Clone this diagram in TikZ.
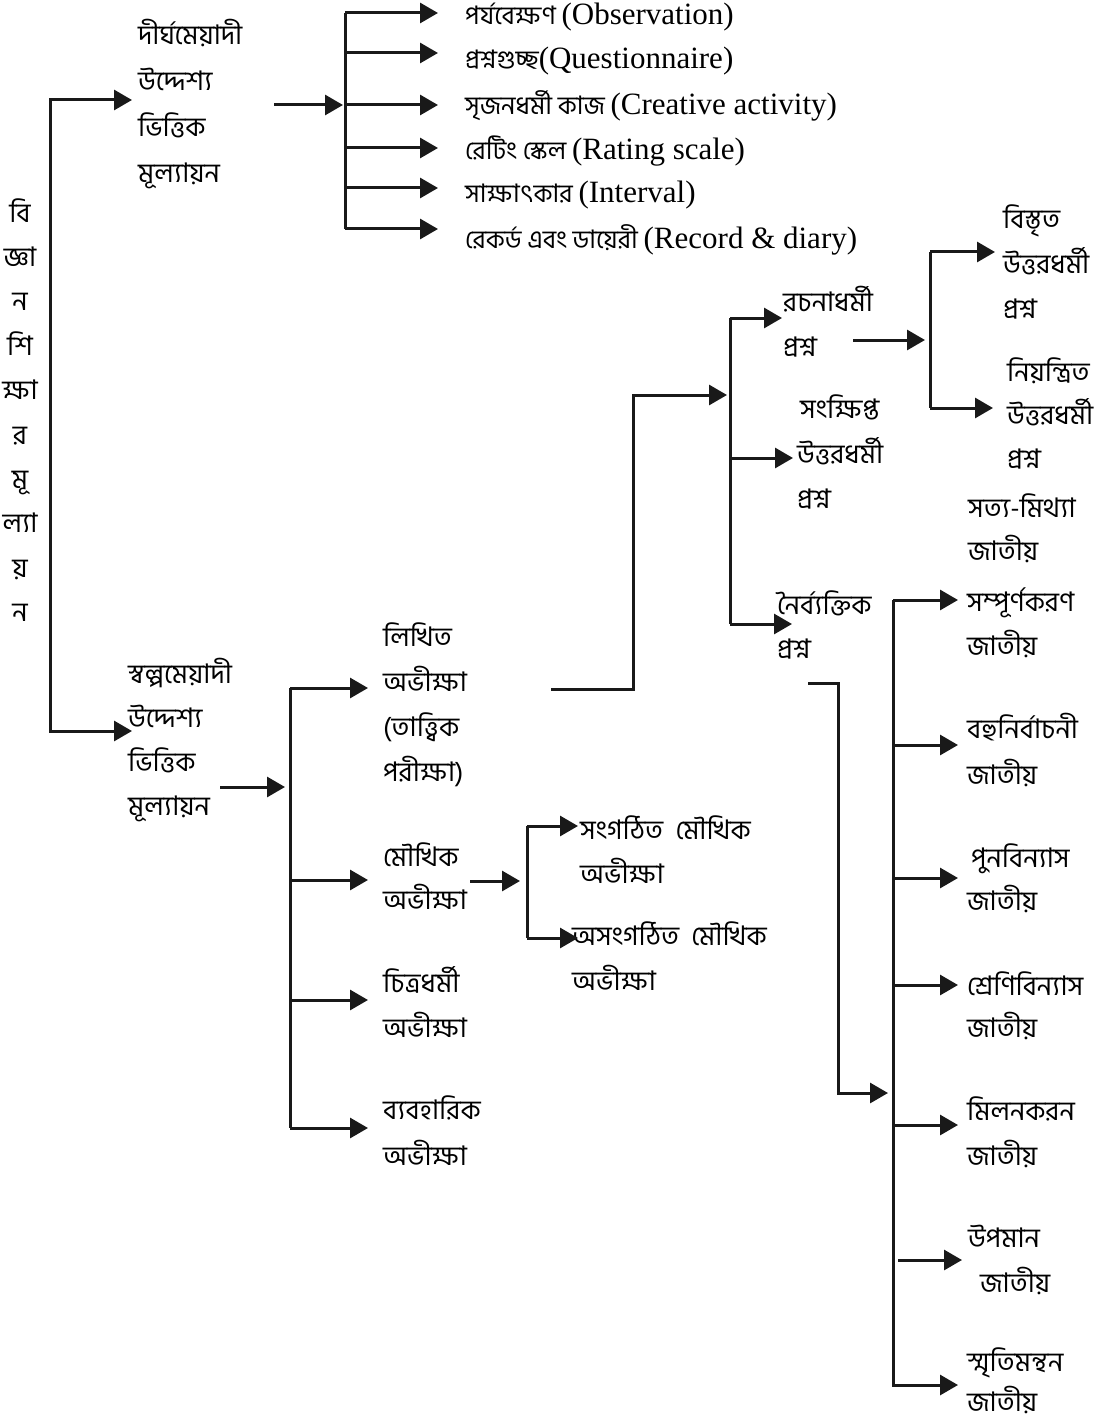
\documentclass[tikz,border=0pt]{standalone}
\usepackage{fontspec}
\newfontfamily\bn[Script=Bengali]{Hind Siliguri}
\newfontfamily\en{Liberation Serif}
\usetikzlibrary{arrows.meta}
\def\bsz{27}
\tikzset{
  ln/.style={line width=3pt, line join=miter, draw=black!90},
  arr/.style={ln, -{Triangle[length=18pt,width=20pt]}},
  txt/.style={anchor=west, inner sep=0pt, align=left, font=\bn\fontsize{\bsz}{45}\selectfont},
  lst/.style={anchor=west, inner sep=0pt, font=\bn\fontsize{25.5}{30}\selectfont}
}
\newcommand{\eng}[1]{{\en\fontsize{31}{36}\selectfont #1}}
\newcommand{\bls}[1]{\bn\fontsize{\bsz}{#1}\selectfont}
\begin{document}
\begin{tikzpicture}[x=1pt,y=-1pt]
\fill[white] (0,0) rectangle (1119,1423);
\useasboundingbox (0,0) rectangle (1119,1423);

% vertical title
\node[inner sep=0pt, align=center, font=\bls{44.4}] (title) at (20,410)
  {বি\\জ্ঞা\\ন\\শি\\ক্ষা\\র\\মূ\\ল্যা\\য়\\ন};

% level 1
\node[txt, font=\bls{46}] (dirgho) at (138,104) {দীর্ঘমেয়াদী\\উদ্দেশ্য\\ভিত্তিক\\মূল্যায়ন};
\node[txt, font=\bls{44}] (swolpo) at (128,740) {স্বল্পমেয়াদী\\উদ্দেশ্য\\ভিত্তিক\\মূল্যায়ন};

\coordinate (mT) at (50,100);
\coordinate (mB) at (50,731);
\coordinate (dirghoTip) at (132,100);
\coordinate (swolpoTip) at (132,731);
\draw[ln, {Triangle[length=18pt,width=20pt]}-{Triangle[length=18pt,width=20pt]}] (dirghoTip) -- (mT) -- (mB) -- (swolpoTip);

% top list
\node[lst] (obs) at (465,17) {পর্যবেক্ষণ \eng{(Observation)}};
\node[lst] (que) at (465,61) {প্রশ্নগুচ্ছ\eng{(Questionnaire)}};
\node[lst] (cre) at (465,106) {সৃজনধর্মী কাজ \eng{(Creative activity)}};
\node[lst] (rat) at (465,151) {রেটিং স্কেল \eng{(Rating scale)}};
\node[lst] (int) at (465,195) {সাক্ষাৎকার \eng{(Interval)}};
\node[lst] (rec) at (465,240) {রেকর্ড এবং ডায়েরী \eng{(Record \& diary)}};

\coordinate (s1in) at (274,105);
\coordinate (s1a) at (345,13);
\coordinate (s1b) at (345,229);
\draw[arr] (s1in) -- (343,105);
\draw[ln] (s1a) -- (s1b);
\foreach \y in {13,53,105,148,188,229}
  \draw[arr] (345,\y) -- (438,\y);

% level 2 lower
\node[txt] (likhit) at (383,705) {লিখিত\\অভীক্ষা\\(তাত্ত্বিক\\পরীক্ষা)};
\node[txt, font=\bls{43}] (moukhik) at (383,876) {মৌখিক\\অভীক্ষা};
\node[txt] (chitro) at (383,1002) {চিত্রধর্মী\\অভীক্ষা};
\node[txt, font=\bls{46}] (byabo) at (383,1131) {ব্যবহারিক\\অভীক্ষা};

\coordinate (s2in) at (220,787);
\coordinate (s2a) at (290,688);
\coordinate (s2b) at (290,1128);
\draw[arr] (s2in) -- (285,787);
\draw[ln] (s2a) -- (s2b);
\foreach \y in {688,880,1000,1128}
  \draw[arr] (290,\y) -- (368,\y);

% oral sub
\node[txt, font=\bls{44}] (song) at (580,850) {সংগঠিত\ \ মৌখিক\\অভীক্ষা};
\node[txt] (osong) at (572,956) {অসংগঠিত\ \ মৌখিক\\অভীক্ষা};
\coordinate (s3in) at (470,881);
\draw[arr] (s3in) -- (520,881);
\draw[ln] (527,826) -- (527,938);
\draw[arr] (527,826) -- (578,826);
\draw[arr] (527,938) -- (578,938);

% written -> mid
\coordinate (wOut) at (551,689);
\coordinate (wTip) at (727,395);
\draw[arr] (wOut) -- (633,689) -- (633,395) -- (wTip);

\node[txt] (rochona) at (783,322) {রচনাধর্মী\\প্রশ্ন};
\node[txt] (songkh) at (797,452) {\hspace{3pt}সংক্ষিপ্ত\\উত্তরধর্মী\\প্রশ্ন};
\node[txt, font=\bls{44}] (noir) at (777,625) {নৈর্ব্যক্তিক\\প্রশ্ন};

\draw[ln] (730,318) -- (730,624);
\draw[arr] (730,318) -- (782,318);
\draw[arr] (730,458) -- (793,458);
\draw[arr] (730,624) -- (792,624);

% essay sub
\node[txt] (bistr) at (1003,262) {বিস্তৃত\\উত্তরধর্মী\\প্রশ্ন};
\node[txt, font=\bls{43.5}] (niyon) at (1007,413) {নিয়ন্ত্রিত\\উত্তরধর্মী\\প্রশ্ন};
\draw[arr] (853,340) -- (925,340);
\draw[ln] (930,252) -- (930,408);
\draw[arr] (930,252) -- (995,252);
\draw[arr] (930,408) -- (993,408);

% objective sub
\node[txt, font=\bls{43}] (sotto) at (968,528) {সত্য-মিথ্যা\\জাতীয়};
\node[txt, font=\bls{44}] (sompu) at (967,623) {সম্পূর্ণকরণ\\জাতীয়};
\node[txt, font=\bls{46}] (bohu) at (967,750) {বহুনির্বাচনী\\জাতীয়};
\node[txt, font=\bls{43}] (puno) at (967,878) {\hspace{4pt}পুনবিন্যাস\\জাতীয়};
\node[txt, font=\bls{42}] (shreni) at (967,1006) {শ্রেণিবিন্যাস\\জাতীয়};
\node[txt, font=\bls{45}] (milon) at (967,1132) {মিলনকরন\\জাতীয়};
\node[txt, font=\bls{45}] (upo) at (968,1260) {উপমান\\\hspace{12pt}জাতীয়};
\node[txt, font=\bls{40}] (smri) at (967,1381) {স্মৃতিমন্থন\\জাতীয়};

\coordinate (oOut) at (808,683);
\draw[arr] (oOut) -- (838,683) -- (838,1093) -- (888,1093);
\draw[ln] (893,600) -- (893,1387);
\foreach \y in {600,745,878,985,1125,1385}
  \draw[arr] (893,\y) -- (958,\y);
\draw[arr] (898,1260) -- (962,1260);
\end{tikzpicture}
\end{document}
